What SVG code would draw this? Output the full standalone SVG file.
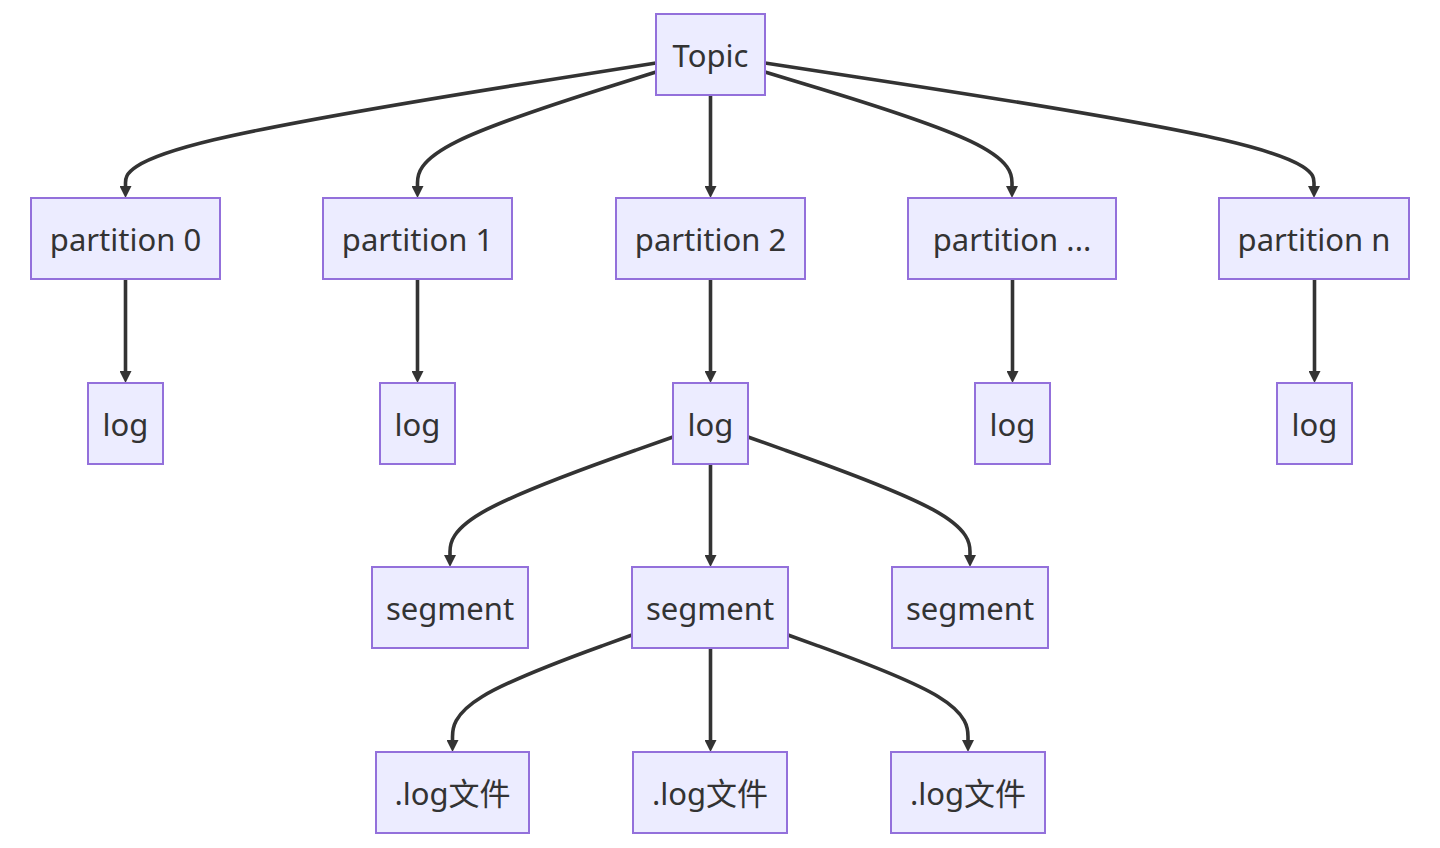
<svg xmlns="http://www.w3.org/2000/svg" width="1440" height="848" viewBox="0 0 1440 848">
<style>
.node rect{fill:#ECECFF;stroke:#9370DB;stroke-width:2}
.node text{font-family:"Noto Sans","Noto Sans CJK SC",sans-serif;font-size:31px;fill:#333;text-anchor:middle;dominant-baseline:central}
.edges path{fill:none;stroke:#333;stroke-width:3.6;marker-end:url(#arrow)}
</style>
<defs>
<marker id="arrow" viewBox="0 0 12 12" markerWidth="12" markerHeight="12" markerUnits="userSpaceOnUse" refX="4" refY="6" orient="auto">
<path d="M0,0 L12,6 L0,12 z" fill="#333"/>
</marker>
</defs>
<rect width="1440" height="848" fill="#fff"/>
<g class="edges">
<path d="M656,63 L567.58,76.92 C479.17,90.83 302.33,118.67 213.92,139.83 C125.5,161 125.5,175.5 125.5,182.75 L125.5,190"/>
<path d="M656,72 L616.25,84.42 C576.5,96.83 497,121.67 457.25,141.33 C417.5,161 417.5,175.5 417.5,182.75 L417.5,190"/>
<path d="M710.5,95 L710.5,190"/>
<path d="M765,72 L806.17,84.42 C847.33,96.83 929.67,121.67 970.83,141.33 C1012,161 1012,175.5 1012,182.75 L1012,190"/>
<path d="M765,63 L856.5,76.92 C948,90.83 1131,118.67 1222.5,139.83 C1314,161 1314,175.5 1314,182.75 L1314,190"/>
<path d="M125.5,279 L125.5,375"/>
<path d="M417.5,279 L417.5,375"/>
<path d="M710.5,279 L710.5,375"/>
<path d="M1012.5,279 L1012.5,375"/>
<path d="M1314.5,279 L1314.5,375"/>
<path d="M673,437 L635.83,450.08 C598.67,463.17 524.33,489.33 487.17,509.67 C450,530 450,544.5 450,551.75 L450,559"/>
<path d="M710.5,464 L710.5,559"/>
<path d="M748,437 L785,450.08 C822,463.17 896,489.33 933,509.67 C970,530 970,544.5 970,551.75 L970,559"/>
<path d="M632,635 L602.08,645.83 C572.17,656.67 512.33,678.33 482.42,696.5 C452.5,714.67 452.5,729.33 452.5,736.67 L452.5,744"/>
<path d="M710.5,648 L710.5,744"/>
<path d="M788,635 L818,645.83 C848,656.67 908,678.33 938,696.5 C968,714.67 968,729.33 968,736.67 L968,744"/>
</g>
<g id="topic" class="node"><rect x="656" y="14" width="109" height="81"/><text x="710.5" y="54.5">Topic</text></g>
<g id="p0" class="node"><rect x="31" y="198" width="189" height="81"/><text x="125.5" y="238.5">partition 0</text></g>
<g id="p1" class="node"><rect x="323" y="198" width="189" height="81"/><text x="417.5" y="238.5">partition 1</text></g>
<g id="p2" class="node"><rect x="616" y="198" width="189" height="81"/><text x="710.5" y="238.5">partition 2</text></g>
<g id="pdots" class="node"><rect x="908" y="198" width="208" height="81"/><text x="1012" y="238.5">partition ...</text></g>
<g id="pn" class="node"><rect x="1219" y="198" width="190" height="81"/><text x="1314" y="238.5">partition n</text></g>
<g id="log0" class="node"><rect x="88" y="383" width="75" height="81"/><text x="125.5" y="423.5">log</text></g>
<g id="log1" class="node"><rect x="380" y="383" width="75" height="81"/><text x="417.5" y="423.5">log</text></g>
<g id="log2" class="node"><rect x="673" y="383" width="75" height="81"/><text x="710.5" y="423.5">log</text></g>
<g id="log3" class="node"><rect x="975" y="383" width="75" height="81"/><text x="1012.5" y="423.5">log</text></g>
<g id="log4" class="node"><rect x="1277" y="383" width="75" height="81"/><text x="1314.5" y="423.5">log</text></g>
<g id="seg0" class="node"><rect x="372" y="567" width="156" height="81"/><text x="450" y="607.5">segment</text></g>
<g id="seg1" class="node"><rect x="632" y="567" width="156" height="81"/><text x="710" y="607.5">segment</text></g>
<g id="seg2" class="node"><rect x="892" y="567" width="156" height="81"/><text x="970" y="607.5">segment</text></g>
<g id="file0" class="node"><rect x="376" y="752" width="153" height="81"/><text x="452.5" y="792.5">.log文件</text></g>
<g id="file1" class="node"><rect x="633" y="752" width="154" height="81"/><text x="710" y="792.5">.log文件</text></g>
<g id="file2" class="node"><rect x="891" y="752" width="154" height="81"/><text x="968" y="792.5">.log文件</text></g>
</svg>
